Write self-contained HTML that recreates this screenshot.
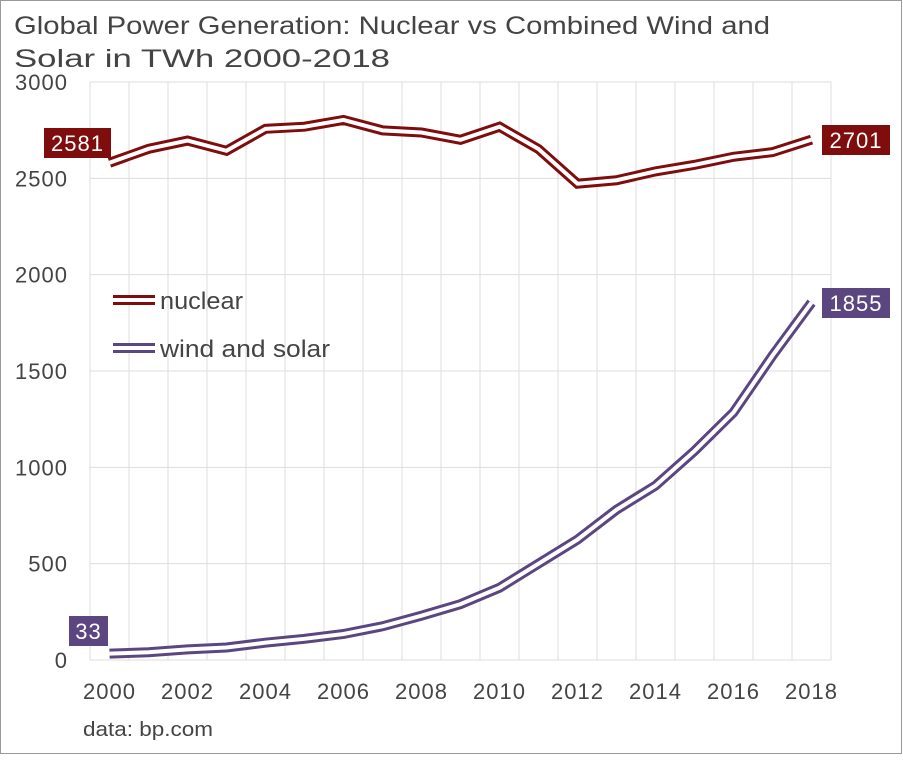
<!DOCTYPE html>
<html><head><meta charset="utf-8"><style>
body{margin:0;background:#fff;font-family:"Liberation Sans",sans-serif;}
svg text{font-family:"Liberation Sans",sans-serif;}
</style></head><body>
<svg width="903" height="755" xmlns="http://www.w3.org/2000/svg">
<rect x="0.5" y="0.5" width="901" height="753" fill="#fff" stroke="#999"/>
<text x="14" y="34" font-size="25" fill="#444" textLength="756" lengthAdjust="spacingAndGlyphs">Global Power Generation: Nuclear vs Combined Wind and</text>
<text x="14" y="67" font-size="25" fill="#444" textLength="376" lengthAdjust="spacingAndGlyphs">Solar in TWh 2000-2018</text>
<g id="grid"></g><g id="axes"></g><g id="lines"></g><g id="labels"></g>
<text x="83" y="736" font-size="20" fill="#444" textLength="130" lengthAdjust="spacingAndGlyphs">data: bp.com</text>
<g>
<g>
<line x1="113" y1="300" x2="155" y2="300" stroke="#7f0d0d" stroke-width="10"/><line x1="113" y1="300" x2="155" y2="300" stroke="#fff" stroke-width="4"/>
<text x="160" y="309" font-size="24" fill="#444" textLength="83" lengthAdjust="spacingAndGlyphs">nuclear</text></g>
<g>
<line x1="113" y1="348" x2="155" y2="348" stroke="#5b4680" stroke-width="10"/><line x1="113" y1="348" x2="155" y2="348" stroke="#fff" stroke-width="4"/>
<text x="160" y="357" font-size="24" fill="#444" textLength="170" lengthAdjust="spacingAndGlyphs">wind and solar</text></g>
</g>
</svg>
<script>
const years=[2000,2001,2002,2003,2004,2005,2006,2007,2008,2009,2010,2011,2012,2013,2014,2015,2016,2017,2018];
const nuclear=[2581,2653,2696,2643,2757,2768,2803,2749,2738,2700,2768,2652,2472,2490,2536,2570,2612,2636,2701];
const windSolar=[33,40,55,65,90,110,135,175,230,290,375,500,625,780,905,1085,1285,1580,1855];
const yTicks=[0,500,1000,1500,2000,2500,3000];
const xTickYears=[2000,2002,2004,2006,2008,2010,2012,2014,2016,2018];
const NS="http://www.w3.org/2000/svg";
const x=y=>109.5+(y-2000)*39;
const yS=v=>660-v/3000*578;
function mk(t,a,p){const e=document.createElementNS(NS,t);for(const k in a)e.setAttribute(k,a[k]);p.appendChild(e);return e;}
const grid=document.getElementById('grid'),axes=document.getElementById('axes'),lines=document.getElementById('lines'),labels=document.getElementById('labels');
for(let i=0;i<=19;i++){const gx=90+i*39;const l=mk('line',{x1:gx,x2:gx,y1:yS(3000),y2:yS(0),stroke:'#ddd','stroke-width':1},grid);

}
yTicks.forEach(v=>{const l=mk('line',{x1:90,x2:831,y1:yS(v),y2:yS(v),stroke:'#ddd','stroke-width':1},grid);


const t=mk('text',{x:68,y:yS(v)+8,'font-size':22,fill:'#444','text-anchor':'end','letter-spacing':1},axes);t.textContent=v;

});
xTickYears.forEach(yr=>{const t=mk('text',{x:x(yr),y:699,'font-size':22,fill:'#444','text-anchor':'middle','letter-spacing':1},axes);t.textContent=yr;

});
function series(vals,col,name){const pts=vals.map((v,i)=>x(years[i])+','+yS(v)).join(' ');
const g=mk('g',{},lines);


mk('polyline',{points:pts,fill:'none',stroke:col,'stroke-width':10,'stroke-linejoin':'miter'},g);
mk('polyline',{points:pts,fill:'none',stroke:'#fff','stroke-width':4,'stroke-linejoin':'miter'},g);}
series(nuclear,'#7f0d0d','nuclear-line');
series(windSolar,'#5b4680','wind-solar-line');
function lab(v,cx,cy,w,col,name){const g=mk('g',{},labels);


mk('rect',{x:cx,y:cy,width:w,height:30,fill:col},g);
const t=mk('text',{x:cx+w/2,y:cy+23,'font-size':22,fill:'#fff','text-anchor':'middle','letter-spacing':1},g);t.textContent=v;}
lab(nuclear[0],44,128,67,'#7f0d0d','label-nuclear-start');
lab(nuclear[18],822,125,68,'#7f0d0d','label-nuclear-end');
lab(windSolar[18],822,288,68,'#5b4680','label-wind-solar-end');
lab(windSolar[0],69,616,39,'#5b4680','label-wind-solar-start');
</script>
</body></html>
